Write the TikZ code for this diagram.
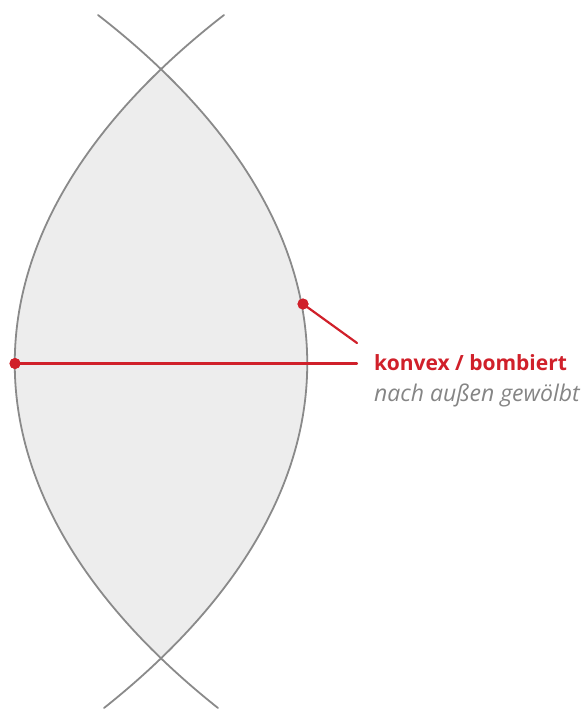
\documentclass[tikz,border=0pt]{standalone}
\usepackage{fontspec}
\setmainfont{Open Sans}
\definecolor{LensGray}{HTML}{8A8A8A}
\definecolor{LensFill}{HTML}{EDEDED}
\definecolor{LabelRed}{HTML}{D0202A}
\definecolor{NoteGray}{HTML}{858585}

\begin{document}
\begin{tikzpicture}[x=1pt,y=-1pt,line cap=round,line join=round]
  \useasboundingbox (0,0) rectangle (584,709);
  % lens area between the two arcs
  \begin{scope}
    \clip (224,15) .. controls (-54,231) and (-54,492) .. (218,708) -- (600,708) -- (600,15) -- cycle;
    \fill[LensFill] (98,15) .. controls (376,231) and (376,492) .. (104,708) -- (-20,708) -- (-20,15) -- cycle;
  \end{scope}
  \draw[LensGray,line width=1.8pt] (224,15) .. controls (-54,231) and (-54,492) .. (218,708);
  \draw[LensGray,line width=1.8pt] (98,15) .. controls (376,231) and (376,492) .. (104,708);
  \node[circle,fill=LabelRed,inner sep=0pt,minimum size=11pt] (ptl) at (15,363.5) {};
  \node[circle,fill=LabelRed,inner sep=0pt,minimum size=11pt] (ptr) at (303,304) {};
  \coordinate (hend) at (357,363.5); \coordinate (dend) at (357,343);
  \draw[LabelRed,line width=2.2pt] (ptl.center)--(hend);
  \draw[LabelRed,line width=2.2pt] (ptr.center)--(dend);
  \node[circle,fill=LabelRed,inner sep=0pt,minimum size=11pt] at (ptl) {};
  \node[circle,fill=LabelRed,inner sep=0pt,minimum size=11pt] at (ptr) {};
  \node[LabelRed,anchor=base west,inner sep=0pt,font=\bfseries\fontsize{21}{25}\selectfont] (title) at (374,370) {konvex / bombiert};
  \node[NoteGray,anchor=base west,inner sep=0pt,font=\itshape\fontsize{23}{27}\selectfont] (note) at (374,401) {nach außen gewölbt};
\end{tikzpicture}
\end{document}
